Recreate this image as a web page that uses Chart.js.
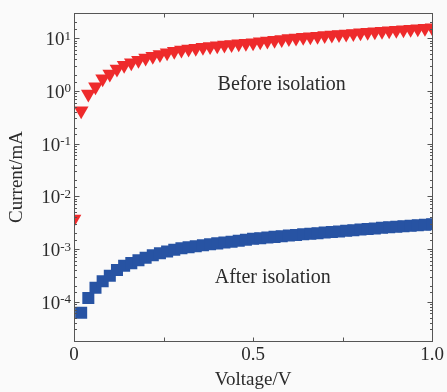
<!DOCTYPE html>
<html>
<head>
<meta charset="utf-8">
<script src="https://cdn.jsdelivr.net/npm/chart.js@4.4.0/dist/chart.umd.min.js"></script>
<style>
  body { margin: 0; background: #fafafa; }
</style>
</head>
<body>
<canvas id="ivChart" width="447" height="392"></canvas>
<script>
// datos
const voltage = [0, 0.02, 0.04, 0.06, 0.08, 0.1, 0.12, 0.14, 0.16, 0.18,
  0.2, 0.22, 0.24, 0.26, 0.28, 0.3, 0.32, 0.34, 0.36, 0.38,
  0.4, 0.42, 0.44, 0.46, 0.48, 0.5, 0.52, 0.54, 0.56, 0.58,
  0.6, 0.62, 0.64, 0.66, 0.68, 0.7, 0.72, 0.74, 0.76, 0.78,
  0.8, 0.82, 0.84, 0.86, 0.88, 0.9, 0.92, 0.94, 0.96, 0.98, 1.0];

const before = [0.0037, 0.42, 0.87, 1.2, 1.7, 2.1, 2.6, 3.05, 3.4, 3.8,
  4.2, 4.55, 4.9, 5.3, 5.65, 5.95, 6.2, 6.45, 6.7, 6.95,
  7.15, 7.4, 7.6, 7.8, 8.0, 8.2, 8.5, 8.8, 9.1, 9.45,
  9.8, 10.1, 10.35, 10.6, 10.9, 11.2, 11.45, 11.75, 12.0, 12.3,
  12.6, 12.9, 13.2, 13.5, 13.8, 14.1, 14.4, 14.75, 15.1, 15.45, 15.8];

const after = [null, 6.2e-5, 1.18e-4, 1.84e-4, 2.45e-4, 3.1e-4, 4.0e-4, 4.8e-4, 5.4e-4, 6.1e-4,
  6.8e-4, 7.6e-4, 8.3e-4, 9.0e-4, 9.7e-4, 1.03e-3, 1.08e-3, 1.13e-3, 1.18e-3, 1.23e-3,
  1.28e-3, 1.33e-3, 1.38e-3, 1.44e-3, 1.5e-3, 1.56e-3, 1.6e-3, 1.65e-3, 1.7e-3, 1.75e-3,
  1.8e-3, 1.85e-3, 1.9e-3, 1.95e-3, 2.0e-3, 2.05e-3, 2.1e-3, 2.16e-3, 2.22e-3, 2.28e-3,
  2.34e-3, 2.4e-3, 2.46e-3, 2.52e-3, 2.58e-3, 2.64e-3, 2.7e-3, 2.76e-3, 2.82e-3, 2.88e-3, 2.95e-3];

const yTickExps = [-4, -3, -2, -1, 0, 1];
const xTickLabels = { 0: "0", 0.5: "0.5", 1: "1.0" };

const serif = "'Liberation Serif', 'Times New Roman', serif";
const textColor = "#2b2b2b";

function toPoints(ys) {
  return voltage.map((v, i) => ({ x: v, y: ys[i] }));
}

// marco, ticks hacia adentro, etiquetas 10^n y textos
const marcoPlugin = {
  id: "marco",
  beforeDraw(chart) {
    const ctx = chart.ctx;
    ctx.save();
    ctx.fillStyle = "#fafafa";
    ctx.fillRect(0, 0, chart.width, chart.height);
    ctx.restore();
  },
  afterDraw(chart) {
    const { ctx, chartArea: a, scales } = chart;
    const x = scales.x, y = scales.y;
    const L = Math.round(a.left) + 0.5, R = Math.round(a.right) + 0.5;
    const T = Math.round(a.top) + 0.5, B = Math.round(a.bottom) + 0.5;
    ctx.save();
    ctx.strokeStyle = "#555";
    ctx.lineWidth = 1;
    ctx.strokeRect(L, T, R - L, B - T);

    ctx.beginPath();
    y.ticks.forEach(t => {
      const py = Math.round(y.getPixelForValue(t.value)) + 0.5;
      if (py < T || py > B) return;
      const lg = Math.log10(t.value);
      const len = Math.abs(lg - Math.round(lg)) < 1e-6 ? 5 : 2.5;
      ctx.moveTo(L, py); ctx.lineTo(L + len, py);
      ctx.moveTo(R, py); ctx.lineTo(R - len, py);
    });
    x.ticks.forEach(t => {
      const px = Math.round(x.getPixelForValue(t.value)) + 0.5;
      ctx.moveTo(px, B); ctx.lineTo(px, B - 4);
      ctx.moveTo(px, T); ctx.lineTo(px, T + 4);
    });
    ctx.stroke();

    // etiquetas del eje y: 10 con exponente
    ctx.fillStyle = textColor;
    ctx.textBaseline = "alphabetic";
    yTickExps.forEach(e => {
      const py = y.getPixelForValue(Math.pow(10, e));
      const exp = e < 0 ? "-" + Math.abs(e) : String(e);
      ctx.font = "13px " + serif;
      const ew = ctx.measureText(exp).width;
      const right = a.left - 3;
      ctx.textAlign = "left";
      ctx.fillText(exp, right - ew, py + 1.5);
      ctx.font = "19px " + serif;
      ctx.textAlign = "right";
      ctx.fillText("10", right - ew, py + 7);
    });

    // textos de las series
    ctx.font = "20px " + serif;
    ctx.textAlign = "center";
    ctx.textBaseline = "middle";
    ctx.fillText("Before isolation", x.getPixelForValue(0.58), y.getPixelForValue(1.33));
    ctx.fillText("After isolation", x.getPixelForValue(0.555), y.getPixelForValue(2.8e-4));
    ctx.restore();
  }
};

const ctx = document.getElementById("ivChart").getContext("2d");

const ivChart = new Chart(ctx, {
  type: "scatter",
  data: {
    datasets: [
      {
        label: "Before isolation",
        data: toPoints(before),
        pointStyle: "triangle",
        rotation: 180,
        pointRadius: 8.5,
        pointHoverRadius: 8.5,
        backgroundColor: "#ee2a2b",
        borderWidth: 0,
        clip: 0
      },
      {
        label: "After isolation",
        data: toPoints(after),
        pointStyle: "rect",
        pointRadius: 8.5,
        pointHoverRadius: 8.5,
        backgroundColor: "#2753a3",
        borderWidth: 0,
        clip: 0
      }
    ]
  },
  options: {
    responsive: false,
    animation: false,
    devicePixelRatio: 1,
    layout: { padding: { top: 13, right: 11, left: 0, bottom: 0 } },
    plugins: {
      legend: { display: false },
      tooltip: { enabled: false }
    },
    scales: {
      x: {
        type: "linear",
        min: 0,
        max: 1,
        grid: { display: false, drawTicks: false },
        border: { display: false },
        ticks: {
          stepSize: 0.25,
          padding: 3,
          autoSkip: false,
          maxRotation: 0,
          color: textColor,
          font: { family: serif, size: 19 },
          callback: v => xTickLabels[v] !== undefined ? xTickLabels[v] : ""
        },
        title: {
          display: true,
          text: "Voltage/V",
          color: textColor,
          font: { family: serif, size: 19 },
          padding: { top: 0, bottom: 1 }
        },
        afterFit: s => { s.height = 51; }
      },
      y: {
        type: "logarithmic",
        min: 1.8e-5,
        max: 30,
        grid: { display: false, drawTicks: false },
        border: { display: false },
        ticks: { display: false, autoSkip: false },
        title: {
          display: true,
          text: "Current/mA",
          color: textColor,
          font: { family: serif, size: 19 },
          padding: { top: 6, bottom: 0 }
        },
        afterFit: s => { s.width = 74; }
      }
    }
  },
  plugins: [marcoPlugin]
});
</script>
</body>
</html>
